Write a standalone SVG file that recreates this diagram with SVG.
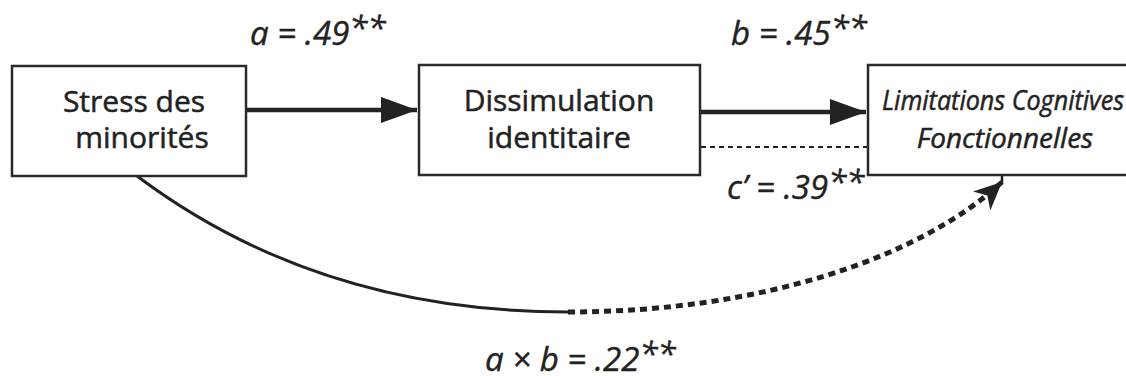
<svg xmlns="http://www.w3.org/2000/svg" width="1126" height="376" viewBox="0 0 1126 376">
  <style>
    .box { fill: #ffffff; stroke: #2a2a2a; stroke-width: 2.5; }
    .node { font-family: "Open Sans", "Noto Sans", sans-serif; font-size: 30px; fill: #222222; stroke: #222222; stroke-width: 0.5; text-anchor: middle; }
    .nodeit { font-family: "Open Sans", "Noto Sans", sans-serif; font-size: 28px; font-style: italic; fill: #222222; stroke: #222222; stroke-width: 0.5; text-anchor: middle; }
    .lbl { font-family: "Open Sans", "Noto Sans", sans-serif; font-size: 33px; font-style: italic; fill: #222222; stroke: #222222; stroke-width: 0.4; }
    .thick { stroke: #222222; stroke-width: 4.5; fill: none; }
    .thin-dash { stroke: #222222; stroke-width: 2; stroke-dasharray: 5 4; fill: none; }
    .curve { stroke: #222222; stroke-width: 3; fill: none; }
    .curve-dash { stroke: #222222; stroke-width: 5; stroke-dasharray: 7 5; fill: none; }
  </style>
  <defs>
    <marker id="head" markerUnits="userSpaceOnUse" markerWidth="40" markerHeight="30" refX="36" refY="13" orient="auto">
      <path d="M0,0 L36,13 L0,26 Z" fill="#222222"/>
    </marker>
    <marker id="head2" markerUnits="userSpaceOnUse" markerWidth="32" markerHeight="28" refX="28" refY="13" orient="auto">
      <path d="M0,0 L28,13 L0,26 L8,13 Z" fill="#222222"/>
    </marker>
  </defs>
  <rect width="1126" height="376" fill="#ffffff"/>

  <g id="connectors">
    <line class="thick" x1="246" y1="110" x2="417" y2="110" marker-end="url(#head)"/>
    <line class="thick" x1="700" y1="112" x2="866" y2="112" marker-end="url(#head)"/>
    <line class="thin-dash" x1="701" y1="147" x2="867" y2="147"/>
    <path class="curve" d="M137,176 Q318,312 568,312"/>
    <path class="curve-dash" d="M568,312 C760,312 920,258 1002,182" marker-end="url(#head2)"/>
    <path d="M1002,175 L1002,183" stroke="#222222" stroke-width="2.5"/>
  </g>

  <g id="node-stress">
    <rect class="box" x="12" y="66" width="234" height="110"/>
    <text class="node" x="134" y="112">Stress des</text>
    <text class="node" x="142" y="148">minorités</text>
  </g>
  <g id="node-dissimulation">
    <rect class="box" x="419" y="65" width="281" height="110"/>
    <text class="node" x="559" y="111">Dissimulation</text>
    <text class="node" x="559" y="148">identitaire</text>
  </g>
  <g id="node-limitations">
    <rect class="box" x="868" y="65" width="280" height="110"/>
    <text class="nodeit" x="1003" y="110" textLength="242" lengthAdjust="spacingAndGlyphs">Limitations Cognitives</text>
    <text class="nodeit" x="1005" y="148">Fonctionnelles</text>
  </g>

  <g id="labels">
    <text class="lbl" x="250" y="45">a = .49<tspan dy="-5">**</tspan></text>
    <text class="lbl" x="731" y="45">b = .45<tspan dy="-5">**</tspan></text>
    <text class="lbl" x="727" y="199">c’ = .39<tspan dy="-5">**</tspan></text>
    <text class="lbl" x="485" y="371">a × b = .22<tspan dy="-5">**</tspan></text>
  </g>
</svg>
